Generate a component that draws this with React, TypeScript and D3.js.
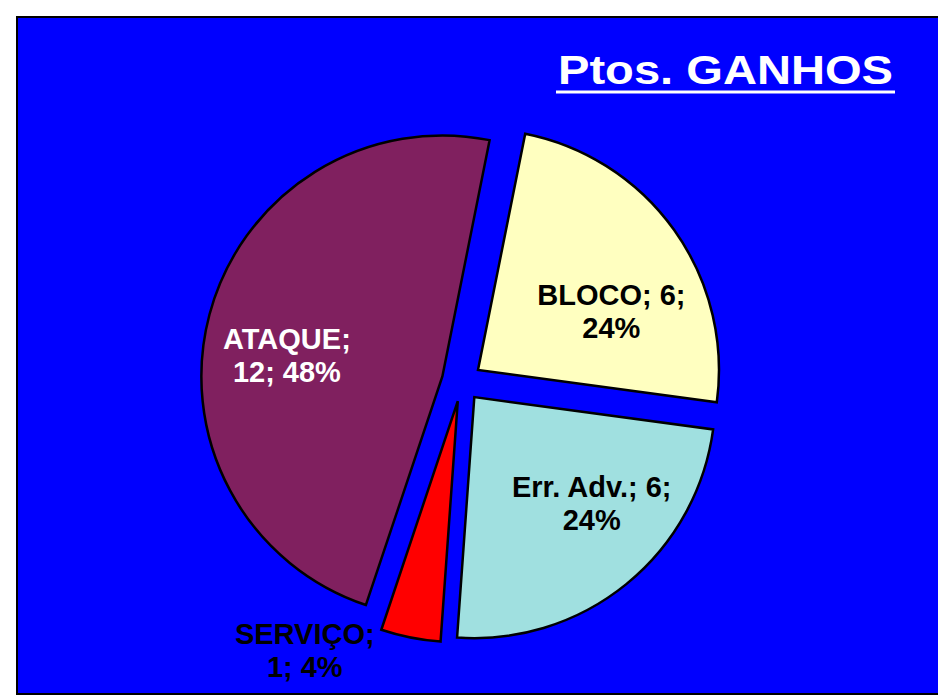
import React from "react";
import * as d3 from "d3";

const categories = ["BLOCO", "Err. Adv.", "SERVIÇO", "ATAQUE"];
const values = [6, 6, 1, 12];
const percents = ["24%", "24%", "4%", "48%"];
const colors = ["#FFFFC0", "#A0E0E0", "#FF0000", "#80205F"];
const textColors = ["#000000", "#000000", "#000000", "#FFFFFF"];
const titleText = "Ptos. GANHOS";

// label placement: polar offsets (radius px, angle deg) from each exploded slice apex
const labelPolar = [
  [146, 66],
  [158, 132],
  [292, 211.6],
  [157, 278],
];
const labelLines = [
  (i: number) => [`${categories[i]}; ${values[i]};`, percents[i]],
  (i: number) => [`${categories[i]}; ${values[i]};`, percents[i]],
  (i: number) => [`${categories[i]};`, `${values[i]}; ${percents[i]}`],
  (i: number) => [`${categories[i]};`, `${values[i]}; ${percents[i]}`],
];

export default function App() {
  const W = 938;
  const H = 697;
  const cx = 461.7;
  const cy = 381.6;
  const R = 241;
  const explode = 20;
  const start = (11.3 * Math.PI) / 180;

  const pie = d3
    .pie<number>()
    .sort(null)
    .value((d) => d)
    .startAngle(start)
    .endAngle(start + 2 * Math.PI);
  const arcs = pie(values);
  const arc = d3.arc<d3.PieArcDatum<number>>().innerRadius(0).outerRadius(R);
  const font = "'Liberation Sans', Arial, Helvetica, sans-serif";

  return (
    <svg
      width={W}
      height={H}
      style={{ position: "absolute", left: 0, top: 0 }}
      xmlns="http://www.w3.org/2000/svg"
    >
      <rect x={0} y={0} width={W} height={H} fill="#ffffff" />
      <rect x={17} y={17} width={940} height={677} fill="#0000FF" stroke="#000000" strokeWidth={2} />
      {arcs.map((a, i) => {
        const mid = (a.startAngle + a.endAngle) / 2;
        const ox = cx + Math.sin(mid) * explode;
        const oy = cy - Math.cos(mid) * explode;
        return (
          <path
            key={categories[i]}
            d={arc(a) || ""}
            transform={`translate(${ox},${oy})`}
            fill={colors[i]}
            stroke="#000000"
            strokeWidth={2.5}
            strokeLinejoin="miter"
          />
        );
      })}
      {arcs.map((a, i) => {
        const mid = (a.startAngle + a.endAngle) / 2;
        const ox = cx + Math.sin(mid) * explode;
        const oy = cy - Math.cos(mid) * explode;
        const [lr, la] = labelPolar[i];
        const ang = (la * Math.PI) / 180;
        const lx = ox + Math.sin(ang) * lr;
        const ly = oy - Math.cos(ang) * lr;
        const lines = labelLines[i](i);
        return (
          <text
            key={"l" + i}
            x={lx}
            y={ly}
            textAnchor="middle"
            fontFamily={font}
            fontWeight="bold"
            fontSize={29}
            fill={textColors[i]}
          >
            <tspan x={lx} y={ly - 6}>{lines[0]}</tspan>
            <tspan x={lx} y={ly + 27}>{lines[1]}</tspan>
          </text>
        );
      })}
      <text
        x={893}
        y={84}
        textAnchor="end"
        fontFamily={font}
        fontWeight="bold"
        fontSize={40}
        fill="#FFFFFF"
        textLength={335}
        lengthAdjust="spacingAndGlyphs"
      >
        {titleText}
      </text>
      <line x1={556} x2={895} y1={92} y2={92} stroke="#FFFFFF" strokeWidth={3} />
    </svg>
  );
}
